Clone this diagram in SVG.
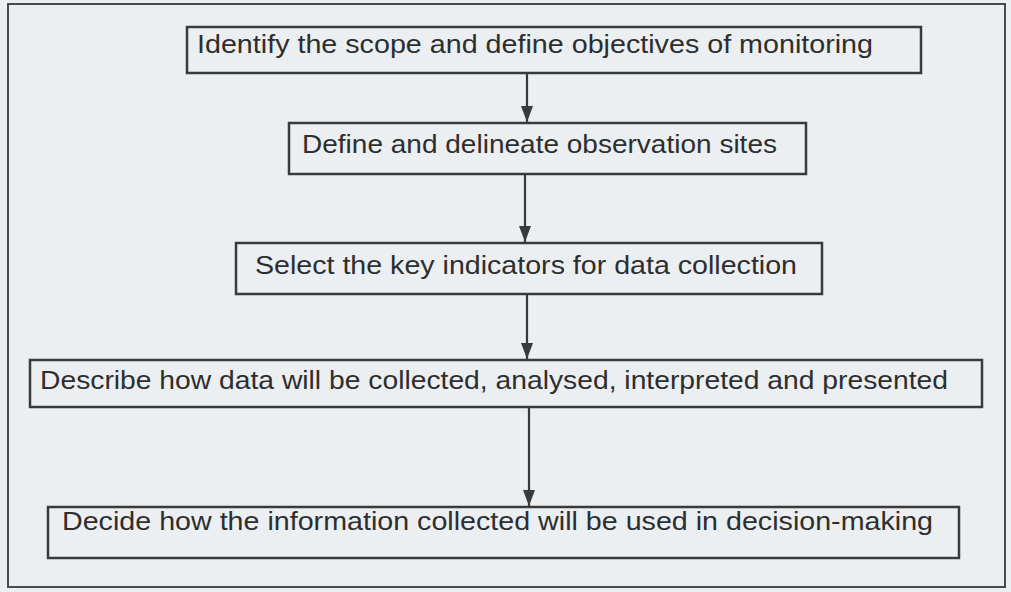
<svg xmlns="http://www.w3.org/2000/svg" width="1011" height="592" viewBox="0 0 1011 592">
<defs>
<style>
.box{fill:none;stroke:#3a3a3a;stroke-width:2.5}
.t{font-family:"Liberation Sans",Arial,sans-serif;font-size:26px;fill:#2e2e2e}
.c{stroke:#3a3a3a;stroke-width:2.2;fill:none}
</style>
<marker id="a2" viewBox="0 0 16 12" refX="16" refY="6" markerWidth="16" markerHeight="12" markerUnits="userSpaceOnUse" orient="auto">
<path d="M0,0 L16,6 L0,12 Z" fill="#3a3a3a"/>
</marker>
</defs>
<rect x="0" y="0" width="1011" height="592" fill="#eceff2"/>
<rect x="8" y="4" width="997" height="583" fill="none" stroke="#4a4a4a" stroke-width="2"/>
<g id="connectors">
<line class="c" x1="527" y1="73" x2="527" y2="122" marker-end="url(#a2)"/>
<line class="c" x1="525" y1="174" x2="525" y2="242" marker-end="url(#a2)"/>
<line class="c" x1="527" y1="294" x2="527" y2="359" marker-end="url(#a2)"/>
<line class="c" x1="529" y1="407" x2="529" y2="506" marker-end="url(#a2)"/>
</g>
<g id="n1">
<rect class="box" x="187" y="27" width="734" height="46"/>
<text class="t" x="197" y="53" textLength="676" lengthAdjust="spacingAndGlyphs">Identify the scope and define objectives of monitoring</text>
</g>
<g id="n2">
<rect class="box" x="289" y="123" width="517" height="51"/>
<text class="t" x="302" y="153" textLength="475" lengthAdjust="spacingAndGlyphs">Define and delineate observation sites</text>
</g>
<g id="n3">
<rect class="box" x="236" y="243" width="586" height="51"/>
<text class="t" x="255" y="274" textLength="542" lengthAdjust="spacingAndGlyphs">Select the key indicators for data collection</text>
</g>
<g id="n4">
<rect class="box" x="30" y="360" width="952" height="47"/>
<text class="t" x="40" y="389" textLength="908" lengthAdjust="spacingAndGlyphs">Describe how data will be collected, analysed, interpreted and presented</text>
</g>
<g id="n5">
<rect class="box" x="48" y="507" width="911" height="51"/>
<text class="t" x="62" y="530" textLength="871" lengthAdjust="spacingAndGlyphs">Decide how the information collected will be used in decision-making</text>
</g>
</svg>
